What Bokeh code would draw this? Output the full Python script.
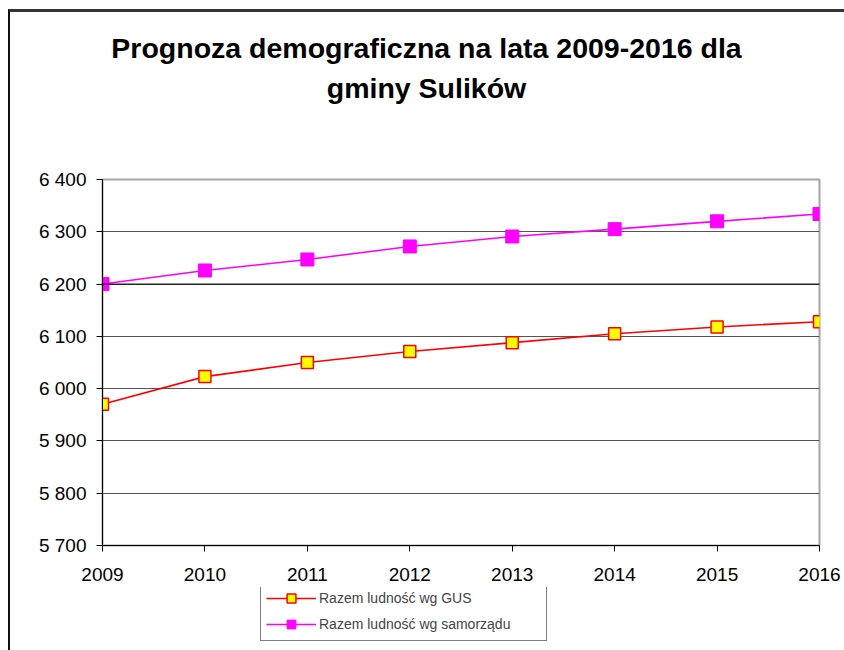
from bokeh.plotting import figure
from bokeh.layouts import column
from bokeh.models import Range1d, FixedTicker, Legend, LegendItem, Label, Span
from bokeh.embed import file_html
from bokeh.resources import INLINE

years = [2009, 2010, 2011, 2012, 2013, 2014, 2015, 2016]
gus = [5970, 6023, 6050, 6071, 6088, 6105, 6118, 6128]
samorzad = [6200, 6226, 6247, 6272, 6291, 6305, 6320, 6334]
y_ticks = [5700, 5800, 5900, 6000, 6100, 6200, 6300, 6400]
y_tick_labels = ["5 700", "5 800", "5 900", "6 000", "6 100", "6 200", "6 300", "6 400"]
title_lines = ["Prognoza demograficzna na lata 2009-2016 dla", "gminy Sulików"]
series_names = ["Razem ludność wg GUS", "Razem ludność wg samorządu"]

FONT = "Liberation Sans"
W = 834
RED, YELLOW, MAGENTA = "#ff0000", "#ffff00", "#ff00ff"
FRAME_L, FRAME_R = 92, 25   # borders of the (column-aligned) plot frames


def bare(fig):
    fig.outline_line_color = None
    fig.background_fill_color = "white"
    fig.border_fill_color = "white"
    fig.xgrid.visible = False
    fig.ygrid.visible = False
    return fig


def block(height, xr, yr):
    return bare(figure(width=W, height=height, output_backend="svg", toolbar_location=None,
                       title_location=None, x_range=xr, y_range=yr,
                       x_axis_location=None, y_axis_location=None,
                       min_border_left=FRAME_L, min_border_right=FRAME_R,
                       min_border_top=0, min_border_bottom=0))


# ---- title block (frame spans canvas x 92..809; x range in canvas pixels) ----
TH = 98
pt = block(TH, Range1d(FRAME_L, W - FRAME_R), Range1d(0, TH))
for txt, base in zip(title_lines, (35, 75)):
    pt.add_layout(Label(x=(W + 2) / 2 - 2, y=TH - base, text=txt, text_align="center",
                        text_baseline="alphabetic", text_font=FONT,
                        text_font_size="28.5px", text_font_style="bold", text_color="black"))

# ---- main chart ----
p = figure(width=W, height=477, output_backend="svg", toolbar_location=None,
           x_range=Range1d(years[0], years[-1]), y_range=Range1d(y_ticks[0], y_ticks[-1]),
           min_border_left=FRAME_L, min_border_right=FRAME_R, min_border_top=69, min_border_bottom=42)
p.background_fill_color = "white"
p.border_fill_color = "white"
p.outline_line_color = "#a6a6a6"
p.outline_line_width = 2

p.xaxis.ticker = FixedTicker(ticks=years)
p.yaxis.ticker = FixedTicker(ticks=y_ticks)
p.yaxis.major_label_overrides = {t: l for t, l in zip(y_ticks, y_tick_labels)}
p.xaxis.major_label_overrides = {y: str(y) for y in years}
for ax in (p.xaxis, p.yaxis):
    ax.axis_line_color = "black"
    ax.axis_line_width = 1
    ax.major_tick_line_color = "black"
    ax.major_tick_in = 0
    ax.major_tick_out = 6
    ax.minor_tick_line_color = None
    ax.major_label_text_font = FONT
    ax.major_label_text_font_size = "19px"
    ax.major_label_text_color = "black"
p.yaxis.major_label_standoff = 10
p.xaxis.major_label_standoff = 16

p.xgrid.grid_line_color = None
p.ygrid.grid_line_color = "#555555"
p.ygrid.grid_line_width = 1
p.ygrid.ticker = FixedTicker(ticks=y_ticks[:-1])
p.add_layout(Span(location=y_ticks[5], dimension="width", line_color="black", line_width=1))

p.line(years, gus, line_color=RED, line_width=1.6)
p.scatter(years, gus, marker="square", size=12, fill_color=YELLOW, line_color=RED, line_width=1.5)
p.line(years, samorzad, line_color=MAGENTA, line_width=1.6)
p.scatter(years, samorzad, marker="square", size=13, fill_color=MAGENTA, line_color=MAGENTA, line_width=1)

# ---- legend block (series drawn out of view; only the legend shows) ----
LH = 63
pl = block(LH, Range1d(0, 1), Range1d(0, 1))
dl1 = pl.line(years, gus, line_color=RED, line_width=1.6)
ds1 = pl.scatter(years, gus, marker="square", size=10, fill_color=YELLOW, line_color=RED, line_width=1.5)
dl2 = pl.line(years, samorzad, line_color=MAGENTA, line_width=1.6)
ds2 = pl.scatter(years, samorzad, marker="square", size=10, fill_color=MAGENTA, line_color=MAGENTA, line_width=1)
legend = Legend(items=[LegendItem(label=series_names[0], renderers=[dl1, ds1]),
                       LegendItem(label=series_names[1], renderers=[dl2, ds2])],
                location=(158, 9), orientation="vertical",
                glyph_width=50, glyph_height=22, spacing=4, padding=5, margin=0,
                label_width=222, label_standoff=3,
                label_text_font=FONT, label_text_font_size="14px",
                border_line_color="black", border_line_width=1,
                background_fill_color="white", background_fill_alpha=1)
pl.add_layout(legend)

layout = column(pt, p, pl, spacing=0,
                styles={"margin-left": "8px", "margin-top": "9px",
                        "border-left": "2px solid #111", "border-top": "3px solid #333"})

open("out.html", "w").write(file_html(layout, INLINE))
